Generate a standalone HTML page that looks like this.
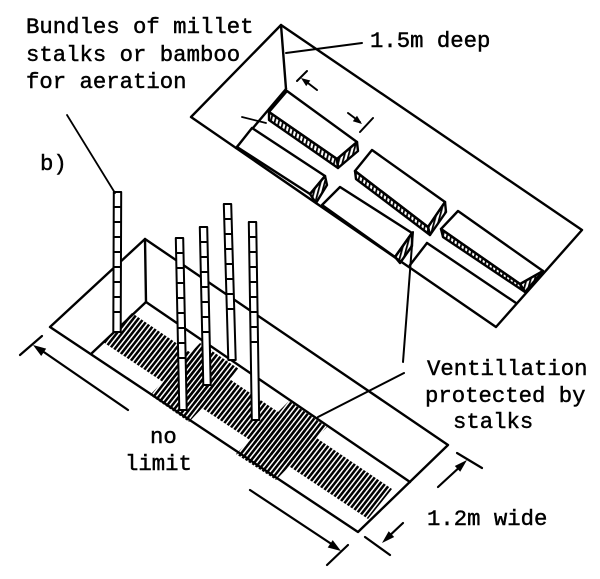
<!DOCTYPE html>
<html><head><meta charset="utf-8">
<style>
html,body{margin:0;padding:0;background:#fff;}
svg{display:block;}
text{font-family:"Liberation Mono","DejaVu Sans Mono",monospace;font-size:22.3px;fill:#000;stroke:#000;stroke-width:0.45;}
</style></head><body>
<svg width="600" height="579" viewBox="0 0 600 579" xmlns="http://www.w3.org/2000/svg">
<defs>
<pattern id="h1" width="4" height="10" patternUnits="userSpaceOnUse" patternTransform="rotate(38)">
<rect x="0" y="0" width="2.5" height="10" fill="#000"/>
</pattern>
<pattern id="h2" width="4" height="10" patternUnits="userSpaceOnUse" patternTransform="rotate(15)">
<rect x="0" y="0" width="1.8" height="10" fill="#000"/>
</pattern>
</defs>
<rect width="600" height="579" fill="#fff"/>

<!-- Upper drawing -->
<g stroke="#000" stroke-width="2.4" fill="none" stroke-linecap="round" stroke-linejoin="round">
<polygon points="281,25 582,230 496,327 191,117"/>
<line x1="281" y1="25" x2="286" y2="89"/>
<line x1="286" y1="89" x2="236" y2="148"/>
<line x1="286" y1="53" x2="362" y2="43" stroke-width="2"/>
<line x1="242" y1="117" x2="266" y2="123" stroke-width="1.8"/>

<!-- block 1 -->
<polygon points="287,91 269,112 337,159 357,142" fill="#fff"/>
<polygon points="269,112 337,159 338,168 269,120" fill="url(#h2)"/>
<polygon points="337,159 357,142 358,151 338,168" fill="url(#h2)"/>
<!-- block 2 -->
<polygon points="252,128 237,147 310,194 325,176" fill="#fff"/>
<polygon points="310,194 325,176 327,185 316,203" fill="url(#h2)"/>
<!-- block 3 -->
<polygon points="372,150 355,171 428,227 445,202" fill="#fff"/>
<polygon points="355,171 428,227 430,235 356,179" fill="url(#h2)"/>
<polygon points="428,227 445,202 446,212 430,235" fill="url(#h2)"/>
<!-- block 4 -->
<polygon points="340,187 322,205 395,257 412,233" fill="#fff"/>
<polygon points="395,257 412,233 412,246 400,263" fill="url(#h2)"/>
<!-- block 5 -->
<line x1="427" y1="243" x2="410" y2="265"/>
<line x1="427" y1="243" x2="516" y2="303"/>
<!-- block 6 -->
<polygon points="458,211 441,229 520,284 543,271" fill="#fff"/>
<polygon points="441,229 520,284 525,292 443,237" fill="url(#h2)"/>
<polygon points="520,284 543,271 525,292" fill="url(#h2)"/>

<!-- dimension arrows upper -->
<line x1="317" y1="90" x2="304" y2="80" stroke-width="2"/>
<line x1="297" y1="81" x2="307" y2="71" stroke-width="2"/>
<line x1="348" y1="113" x2="360" y2="122" stroke-width="2"/>
<line x1="360" y1="132" x2="373" y2="118" stroke-width="2"/>
</g>
<polygon points="301,78 310.3,80.5 306.2,86.1" fill="#000"/>
<polygon points="362,124 352.8,121.3 357,115.7" fill="#000"/>

<!-- Lower drawing -->
<g stroke="#000" stroke-width="2.4" fill="none" stroke-linecap="round" stroke-linejoin="round">
<polygon points="50,327 145,239 448,445 358,532"/>
<line x1="145" y1="239" x2="146" y2="302"/>
<line x1="146" y1="302" x2="92" y2="353"/>
<line x1="146" y1="302" x2="410" y2="482"/>
</g>

<!-- hatching (stalks) -->
<g fill="url(#h1)">
<polygon points="132,313 392,489 368,519 103,342"/>
<polygon points="200,343 239,369 189,422 150,395"/>
<polygon points="289,401 327,427 276,480 236,454"/>
</g>

<!-- poles -->
<g stroke="#000" stroke-width="2" fill="#fff" stroke-linejoin="round">
<polygon points="113.8,192 121.2,192 120.7,332 113.3,332"/>
<polygon points="175.8,238 183.2,238 186.7,410 179.3,410"/>
<polygon points="199.8,227 207.2,227 210.7,385 203.3,385"/>
<polygon points="223.8,204 231.2,204 235.7,360 228.3,360"/>
<polygon points="248.8,222 256.2,222 259.2,420 251.8,420"/>
</g>
<g stroke="#000" stroke-width="2">
<line x1="114" y1="207" x2="121" y2="207"/><line x1="114" y1="222" x2="121" y2="222"/><line x1="114" y1="237" x2="121" y2="237"/><line x1="114" y1="252" x2="121" y2="252"/><line x1="114" y1="267" x2="121" y2="267"/><line x1="114" y1="282" x2="121" y2="282"/><line x1="114" y1="297" x2="121" y2="297"/><line x1="114" y1="312" x2="121" y2="312"/>
<line x1="176.5" y1="253" x2="183.5" y2="253"/><line x1="176.8" y1="268" x2="183.8" y2="268"/><line x1="177.1" y1="283" x2="184.1" y2="283"/><line x1="177.4" y1="298" x2="184.4" y2="298"/><line x1="177.7" y1="313" x2="184.7" y2="313"/><line x1="178" y1="328" x2="185" y2="328"/><line x1="178.3" y1="343" x2="185.3" y2="343"/><line x1="178.6" y1="358" x2="185.6" y2="358"/>
<line x1="200.5" y1="242" x2="207.5" y2="242"/><line x1="200.8" y1="257" x2="207.8" y2="257"/><line x1="201.1" y1="272" x2="208.1" y2="272"/><line x1="201.5" y1="287" x2="208.5" y2="287"/><line x1="201.8" y1="302" x2="208.8" y2="302"/><line x1="202.1" y1="317" x2="209.1" y2="317"/><line x1="202.5" y1="332" x2="209.5" y2="332"/>
<line x1="224.5" y1="219" x2="231.5" y2="219"/><line x1="224.9" y1="234" x2="231.9" y2="234"/><line x1="225.4" y1="249" x2="232.4" y2="249"/><line x1="225.8" y1="264" x2="232.8" y2="264"/><line x1="226.3" y1="279" x2="233.3" y2="279"/><line x1="226.7" y1="294" x2="233.7" y2="294"/><line x1="227.2" y1="309" x2="234.2" y2="309"/>
<line x1="249.5" y1="237" x2="256.5" y2="237"/><line x1="249.7" y1="252" x2="256.7" y2="252"/><line x1="250" y1="267" x2="257" y2="267"/><line x1="250.2" y1="282" x2="257.2" y2="282"/><line x1="250.4" y1="297" x2="257.4" y2="297"/><line x1="250.7" y1="312" x2="257.7" y2="312"/><line x1="250.9" y1="327" x2="257.9" y2="327"/><line x1="251.1" y1="342" x2="258.1" y2="342"/>
</g>

<!-- dimensions & leaders -->
<g stroke="#000" stroke-width="2.2" fill="none" stroke-linecap="round">
<line x1="128" y1="410" x2="38" y2="348"/>
<line x1="20" y1="355" x2="42" y2="336"/>
<line x1="250" y1="490" x2="336" y2="547"/>
<line x1="327" y1="565" x2="348" y2="545"/>
<line x1="438" y1="487" x2="463" y2="464"/>
<line x1="457" y1="453" x2="482" y2="468"/>
<line x1="403" y1="523" x2="386" y2="539"/>
<line x1="365" y1="537" x2="390" y2="555"/>
<line x1="67" y1="115" x2="115" y2="193" stroke-width="1.8"/>
<line x1="413" y1="232" x2="403" y2="362" stroke-width="2"/>
<line x1="404" y1="373" x2="318" y2="417" stroke-width="2"/>
</g>
<polygon points="33,345 46.2,348.6 41.2,356" fill="#000"/>
<polygon points="341,551 327.7,547.5 332.7,540.1" fill="#000"/>
<polygon points="467,460 460.2,471.8 454.8,466" fill="#000"/>
<polygon points="382,543 394.2,537 388.7,531.2" fill="#000"/>

<!-- text -->
<text x="26" y="33">Bundles of millet</text>
<text x="26" y="61">stalks or bamboo</text>
<text x="26" y="88">for aeration</text>
<text x="40" y="170">b)</text>
<text x="370" y="47">1.5m deep</text>
<text x="427" y="375">Ventillation</text>
<text x="425" y="402">protected by</text>
<text x="453" y="428">stalks</text>
<text x="150" y="443">no</text>
<text x="125" y="470">limit</text>
<text x="427" y="525">1.2m wide</text>
</svg>
</body></html>
